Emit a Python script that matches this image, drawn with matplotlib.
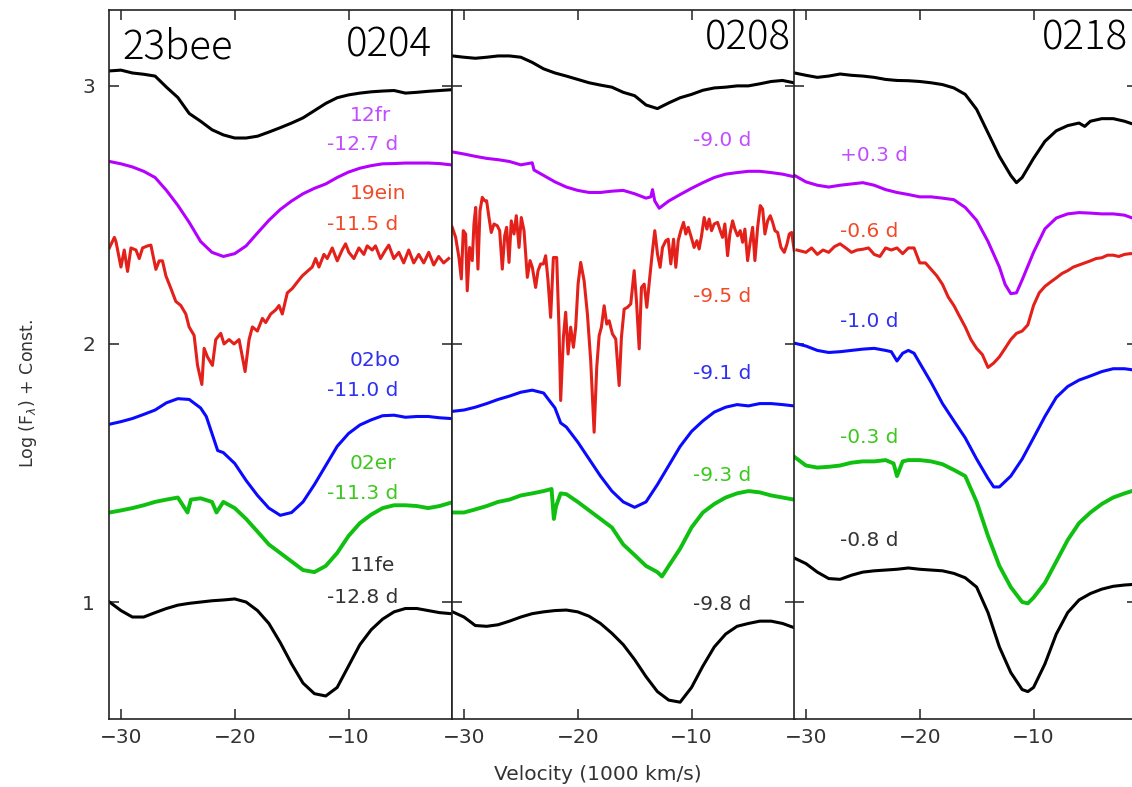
import matplotlib.pyplot as plt

# Si II line profiles, velocity in 1000 km/s, log flux + offsets

# common velocity grid for the smoother spectra
vel = [-31, -30, -29, -28, -27, -26, -25, -24, -23, -22, -21, -20, -19, -18, -17, -16,
       -15, -14, -13, -12, -11, -10, -9, -8, -7, -6, -5, -4, -3, -2, -1]

# ---------------- panel 0204 ----------------
bee_0204 = [3.058, 3.061, 3.050, 3.045, 3.038, 2.995, 2.955, 2.893, 2.863, 2.830, 2.810,
            2.798, 2.798, 2.805, 2.821, 2.838, 2.856, 2.876, 2.904, 2.932, 2.954, 2.965,
            2.972, 2.977, 2.980, 2.982, 2.972, 2.975, 2.979, 2.982, 2.985]

fr12_0204 = [2.707, 2.698, 2.686, 2.669, 2.645, 2.595, 2.537, 2.471, 2.397, 2.355, 2.339,
             2.350, 2.380, 2.430, 2.479, 2.521, 2.554, 2.582, 2.603, 2.620, 2.645, 2.666,
             2.681, 2.691, 2.698, 2.699, 2.701, 2.701, 2.701, 2.699, 2.694]

ein19_0204_v = [-31.02, -30.58, -30.44, -30.00, -29.71, -29.42, -29.12, -28.68, -28.39, -28.10,
                -27.66, -27.37, -26.93, -26.64, -26.35, -26.05, -25.61, -25.18, -24.74, -24.30,
                -24.01, -23.57, -23.27, -22.89, -22.69, -22.40, -21.96, -21.67, -21.23, -20.94,
                -20.50, -20.06, -19.62, -19.33, -19.09, -18.74, -18.45, -18.01, -17.57, -17.28,
                -16.84, -16.40, -16.11, -15.82, -15.38, -14.94, -14.50, -14.06, -13.63, -13.19,
                -12.89, -12.60, -12.16, -11.87, -11.43, -10.99, -10.56, -10.26, -9.97, -9.53,
                -9.09, -8.65, -8.36, -7.92, -7.63, -7.19, -6.75, -6.46, -6.02, -5.58,
                -5.15, -4.71, -4.27, -3.83, -3.39, -2.95, -2.51, -2.08, -1.64, -1.20]
ein19_0204 = [2.372, 2.413, 2.397, 2.298, 2.364, 2.281, 2.372, 2.364, 2.331, 2.372,
              2.380, 2.383, 2.289, 2.322, 2.322, 2.264, 2.215, 2.165, 2.149, 2.116,
              2.066, 2.033, 1.917, 1.843, 1.983, 1.950, 1.917, 2.017, 2.041, 2.000,
              2.017, 2.000, 2.017, 1.950, 1.893, 2.017, 2.066, 2.050, 2.099, 2.083,
              2.116, 2.132, 2.149, 2.116, 2.198, 2.215, 2.240, 2.264, 2.281, 2.298,
              2.331, 2.298, 2.347, 2.331, 2.372, 2.322, 2.364, 2.388, 2.355, 2.331,
              2.372, 2.347, 2.380, 2.364, 2.380, 2.331, 2.364, 2.383, 2.331, 2.355,
              2.314, 2.364, 2.314, 2.347, 2.314, 2.355, 2.306, 2.339, 2.314, 2.331]

bo02_0204_v = [-31, -30, -29, -28, -27, -26, -25, -24, -23, -22.5, -22, -21.5, -21, -20, -19,
               -18, -17, -16, -15, -14, -13, -12, -11, -10, -9, -8, -7, -6, -5, -4, -3, -2, -1]
bo02_0204 = [1.689, 1.699, 1.711, 1.727, 1.744, 1.772, 1.788, 1.785, 1.752, 1.719, 1.653,
             1.587, 1.579, 1.537, 1.471, 1.413, 1.364, 1.336, 1.347, 1.388, 1.455, 1.529,
             1.603, 1.653, 1.686, 1.706, 1.722, 1.724, 1.716, 1.719, 1.719, 1.714, 1.711]

er02_0204_v = [-31, -30, -29, -28, -27, -26, -25, -24.15, -23.85, -23, -22, -21.6, -21, -20,
               -19, -18, -17, -16, -15, -14, -13, -12, -11, -10, -9, -8, -7, -6, -5, -4, -3,
               -2, -1]
er02_0204 = [1.347, 1.355, 1.364, 1.375, 1.388, 1.397, 1.405, 1.347, 1.397, 1.402, 1.388,
             1.347, 1.388, 1.364, 1.322, 1.273, 1.223, 1.190, 1.157, 1.124, 1.116, 1.140,
             1.190, 1.256, 1.306, 1.339, 1.364, 1.375, 1.375, 1.372, 1.364, 1.372, 1.385]

fe11_0204 = [1.000, 0.967, 0.942, 0.942, 0.959, 0.975, 0.988, 0.995, 1.000, 1.005, 1.008,
             1.012, 1.000, 0.967, 0.917, 0.843, 0.760, 0.686, 0.645, 0.636, 0.669, 0.752,
             0.835, 0.893, 0.934, 0.962, 0.975, 0.975, 0.967, 0.959, 0.955]

# ---------------- panel 0208 ----------------
bee_0208 = [3.116, 3.111, 3.107, 3.111, 3.116, 3.116, 3.111, 3.091, 3.066, 3.050, 3.038,
            3.025, 3.012, 3.003, 2.995, 2.975, 2.962, 2.926, 2.912, 2.934, 2.954, 2.967,
            2.983, 2.992, 2.995, 3.000, 3.000, 3.008, 3.017, 3.021, 3.012]

fr12_0208_v = [-31, -30, -29, -28, -27, -26, -25, -24, -23.84, -23, -22, -21, -20, -19, -18,
               -17, -16, -15, -14, -13.58, -13.43, -13.23, -12.84, -12, -11, -10, -9, -8,
               -7, -6, -5, -4, -3, -2, -1]
fr12_0208 = [2.744, 2.736, 2.727, 2.719, 2.714, 2.707, 2.694, 2.702, 2.674, 2.653, 2.628,
             2.608, 2.595, 2.587, 2.587, 2.592, 2.595, 2.582, 2.565, 2.570, 2.598, 2.554,
             2.526, 2.554, 2.579, 2.603, 2.625, 2.645, 2.658, 2.664, 2.669, 2.669, 2.664,
             2.658, 2.648]

ein19_0208_v = [-31.03, -30.73, -30.44, -30.23, -30.06, -29.85, -29.71, -29.50, -29.27, -29.12,
                -28.97, -28.77, -28.59, -28.39, -28.18, -28.01, -27.80, -27.60, -27.36, -27.07,
                -26.86, -26.63, -26.42, -26.25, -26.04, -25.84, -25.60, -25.40, -25.16, -24.96,
                -24.72, -24.43, -24.19, -23.99, -23.70, -23.49, -23.26, -23.02, -22.82, -22.61,
                -22.38, -22.14, -21.85, -21.64, -21.50, -21.26, -21.06, -20.85, -20.62, -20.38,
                -20.18, -19.97, -19.74, -19.44, -19.15, -18.86, -18.56, -18.33, -18.12, -17.92,
                -17.68, -17.45, -17.24, -16.95, -16.66, -16.36, -16.16, -15.92, -15.63, -15.34,
                -15.04, -14.84, -14.60, -14.40, -14.16, -13.93, -13.70, -13.43, -13.23, -12.99,
                -12.76, -12.55, -12.26, -12.05, -11.82, -11.58, -11.38, -11.17, -10.94, -10.70,
                -10.50, -10.29, -10.06, -9.77, -9.53, -9.33, -9.12, -8.89, -8.65, -8.45,
                -8.24, -8.01, -7.71, -7.48, -7.27, -7.07, -6.83, -6.63, -6.39, -6.19,
                -5.95, -5.72, -5.51, -5.31, -5.07, -4.87, -4.63, -4.43, -4.19, -3.96,
                -3.75, -3.55, -3.31, -3.08, -2.87, -2.67, -2.43, -2.14, -1.85, -1.61,
                -1.41, -1.20, -0.97]
ein19_0208 = [2.452, 2.413, 2.335, 2.252, 2.439, 2.426, 2.206, 2.374, 2.323, 2.465,
              2.529, 2.290, 2.516, 2.568, 2.555, 2.555, 2.490, 2.432, 2.465, 2.458,
              2.439, 2.290, 2.419, 2.452, 2.316, 2.477, 2.426, 2.497, 2.374, 2.490,
              2.439, 2.258, 2.323, 2.297, 2.219, 2.284, 2.310, 2.310, 2.342, 2.245,
              2.103, 2.335, 2.335, 2.052, 1.781, 2.026, 2.123, 1.961, 2.065, 1.987,
              2.065, 2.232, 2.316, 2.245, 2.116, 1.935, 1.658, 1.910, 2.032, 2.065,
              2.148, 2.077, 2.090, 2.039, 2.019, 1.839, 2.026, 2.135, 2.142, 2.155,
              2.284, 2.168, 1.981, 2.219, 2.232, 2.142, 2.245, 2.361, 2.439, 2.348,
              2.297, 2.374, 2.400, 2.406, 2.310, 2.406, 2.297, 2.400, 2.439, 2.471,
              2.426, 2.452, 2.419, 2.374, 2.400, 2.368, 2.419, 2.490, 2.445, 2.484,
              2.439, 2.465, 2.471, 2.439, 2.413, 2.465, 2.342, 2.426, 2.477, 2.445,
              2.419, 2.439, 2.394, 2.445, 2.323, 2.387, 2.452, 2.323, 2.452, 2.536,
              2.523, 2.426, 2.477, 2.497, 2.471, 2.439, 2.432, 2.374, 2.355, 2.387,
              2.426, 2.432, 2.361]

bo02_0208_v = [-31, -30, -29, -28, -27, -26, -25, -24, -23, -22, -21.5, -21, -20, -19, -18,
               -17, -16, -15, -14, -13, -12, -11, -10, -9, -8, -7, -6, -5, -4, -3, -2, -1]
bo02_0208 = [1.739, 1.744, 1.755, 1.769, 1.785, 1.798, 1.813, 1.821, 1.810, 1.752, 1.694,
             1.678, 1.620, 1.554, 1.488, 1.430, 1.388, 1.367, 1.388, 1.455, 1.529, 1.603,
             1.661, 1.702, 1.736, 1.755, 1.765, 1.760, 1.769, 1.769, 1.765, 1.760]

er02_0208_v = [-31, -30, -29, -28, -27, -26, -25, -24, -23, -22.3, -22.1, -21.9, -21.5, -21,
               -20, -19, -18, -17, -16, -15, -14, -13, -12.6, -12, -11, -10, -9, -8, -7, -6,
               -5, -4, -3, -2, -1]
er02_0208 = [1.347, 1.347, 1.359, 1.372, 1.388, 1.397, 1.413, 1.421, 1.430, 1.438, 1.322,
             1.372, 1.421, 1.418, 1.388, 1.355, 1.322, 1.289, 1.223, 1.182, 1.140, 1.116,
             1.099, 1.140, 1.207, 1.289, 1.347, 1.380, 1.405, 1.421, 1.430, 1.425, 1.413,
             1.405, 1.397]

fe11_0208 = [0.962, 0.942, 0.909, 0.906, 0.912, 0.926, 0.942, 0.955, 0.962, 0.967, 0.969,
             0.962, 0.945, 0.917, 0.879, 0.835, 0.777, 0.711, 0.653, 0.620, 0.612, 0.669,
             0.752, 0.826, 0.876, 0.906, 0.917, 0.926, 0.926, 0.917, 0.901]

# ---------------- panel 0218 ----------------
bee_0218_v = [-31, -30, -29, -28, -27, -26, -25, -24, -23, -22, -21, -20, -19, -18, -17, -16,
              -15, -14, -13, -12, -11.5, -11, -10, -9, -8, -7, -6, -5.5, -5, -4, -3, -2, -1]
bee_0218 = [3.050, 3.041, 3.033, 3.038, 3.046, 3.041, 3.038, 3.033, 3.025, 3.021, 3.020,
            3.017, 3.012, 3.005, 2.992, 2.967, 2.909, 2.818, 2.727, 2.653, 2.625, 2.645,
            2.719, 2.785, 2.826, 2.846, 2.856, 2.843, 2.863, 2.873, 2.873, 2.863, 2.848]

fr12_0218_v = [-31, -30, -29, -28, -27, -26, -25, -24, -23, -22, -21, -20, -19, -18, -17, -16,
               -15, -14, -13, -12.5, -12, -11.5, -11, -10, -9, -8, -7, -6, -5, -4, -3, -2, -1]
fr12_0218 = [2.653, 2.628, 2.615, 2.608, 2.615, 2.620, 2.625, 2.615, 2.598, 2.587, 2.579,
             2.570, 2.570, 2.565, 2.559, 2.529, 2.479, 2.397, 2.298, 2.231, 2.195, 2.198,
             2.248, 2.355, 2.446, 2.488, 2.504, 2.509, 2.507, 2.504, 2.504, 2.499, 2.483]

ein19_0218_v = [-30.8, -30, -29.5, -29, -28.5, -28, -27.5, -27, -26.5, -26, -25.5, -25, -24.5,
                -24, -23.5, -23, -22.5, -22, -21.5, -21, -20.5, -20, -19.5, -19, -18.5, -18,
                -17.5, -17, -16.5, -16, -15.5, -15, -14.5, -14, -13.5, -13, -12.5, -12,
                -11.5, -11, -10.5, -10, -9.5, -9, -8.5, -8, -7.5, -7, -6.5, -6, -5.5, -5,
                -4.5, -4, -3.5, -3, -2.5, -2, -1.5, -1]
ein19_0218 = [2.364, 2.355, 2.372, 2.347, 2.364, 2.355, 2.377, 2.388, 2.372, 2.355, 2.364,
              2.367, 2.372, 2.347, 2.339, 2.372, 2.364, 2.372, 2.350, 2.372, 2.372, 2.314,
              2.314, 2.289, 2.264, 2.231, 2.182, 2.149, 2.107, 2.066, 2.017, 1.983, 1.959,
              1.909, 1.926, 1.950, 1.983, 2.017, 2.041, 2.050, 2.074, 2.149, 2.198, 2.223,
              2.240, 2.256, 2.273, 2.284, 2.298, 2.306, 2.314, 2.322, 2.331, 2.334, 2.344,
              2.344, 2.339, 2.347, 2.350, 2.350]

bo02_0218_v = [-31, -30, -29, -28, -27, -26, -25, -24, -23, -22.5, -22, -21.5, -21, -20.5,
               -20, -19, -18, -17, -16, -15, -14, -13.5, -13, -12, -11, -10, -9, -8, -7, -6,
               -5, -4, -3, -2, -1]
bo02_0218 = [2.003, 1.992, 1.975, 1.967, 1.970, 1.975, 1.980, 1.983, 1.975, 1.970, 1.934,
             1.964, 1.975, 1.964, 1.926, 1.851, 1.769, 1.702, 1.636, 1.554, 1.479, 1.446,
             1.446, 1.488, 1.554, 1.636, 1.719, 1.793, 1.835, 1.860, 1.876, 1.893, 1.904,
             1.904, 1.898]

er02_0218_v = [-31, -30, -29, -28, -27, -26, -25, -24, -23, -22.3, -22, -21.5, -21, -20, -19,
               -18, -17, -16, -15, -14, -13, -12, -11, -10.5, -10, -9, -8, -7, -6, -5, -4,
               -3, -2, -1]
er02_0218 = [1.562, 1.529, 1.521, 1.524, 1.529, 1.540, 1.545, 1.545, 1.550, 1.537, 1.488,
             1.545, 1.550, 1.550, 1.545, 1.534, 1.512, 1.488, 1.388, 1.256, 1.140, 1.058,
             1.000, 0.995, 1.017, 1.074, 1.157, 1.240, 1.306, 1.347, 1.380, 1.405, 1.421,
             1.435]

fe11_0218_v = [-31, -30, -29, -28, -27, -26, -25, -24, -23, -22, -21, -20, -19, -18, -17, -16,
               -15, -14, -13, -12, -11, -10.5, -10, -9, -8, -7, -6, -5, -4, -3, -2, -1]
fe11_0218 = [1.170, 1.149, 1.116, 1.091, 1.088, 1.104, 1.116, 1.121, 1.124, 1.127, 1.132,
             1.127, 1.124, 1.121, 1.111, 1.094, 1.058, 0.959, 0.826, 0.727, 0.661, 0.653,
             0.669, 0.760, 0.876, 0.959, 1.008, 1.033, 1.050, 1.061, 1.066, 1.069]

# colours
c_black = '#000000'
c_purple = '#b400ff'
c_red = '#e3201a'
c_blue = '#0a0aff'
c_green = '#10c010'
t_purple = '#c24dff'
t_red = '#f04a28'
t_blue = '#3030f0'
t_green = '#3cc81e'
t_black = '#333333'

panels = [
    ('0204', [(vel, bee_0204, c_black), (vel, fr12_0204, c_purple),
              (ein19_0204_v, ein19_0204, c_red), (bo02_0204_v, bo02_0204, c_blue),
              (er02_0204_v, er02_0204, c_green), (vel, fe11_0204, c_black)]),
    ('0208', [(vel, bee_0208, c_black), (fr12_0208_v, fr12_0208, c_purple),
              (ein19_0208_v, ein19_0208, c_red), (bo02_0208_v, bo02_0208, c_blue),
              (er02_0208_v, er02_0208, c_green), (vel, fe11_0208, c_black)]),
    ('0218', [(bee_0218_v, bee_0218, c_black), (fr12_0218_v, fr12_0218, c_purple),
              (ein19_0218_v, ein19_0218, c_red), (bo02_0218_v, bo02_0218, c_blue),
              (er02_0218_v, er02_0218, c_green), (fe11_0218_v, fe11_0218, c_black)]),
]

# text labels per panel: (text, x frac, baseline y frac, colour)
labels = [
    [('12fr', 0.703, 0.844, t_purple), ('-12.7 d', 0.636, 0.802, t_purple),
     ('19ein', 0.703, 0.733, t_red), ('-11.5 d', 0.636, 0.690, t_red),
     ('02bo', 0.703, 0.498, t_blue), ('-11.0 d', 0.636, 0.455, t_blue),
     ('02er', 0.703, 0.352, t_green), ('-11.3 d', 0.636, 0.310, t_green),
     ('11fe', 0.703, 0.208, t_black), ('-12.8 d', 0.636, 0.163, t_black)],
    [('-9.0 d', 0.704, 0.808, t_purple), ('-9.5 d', 0.704, 0.588, t_red),
     ('-9.1 d', 0.704, 0.479, t_blue), ('-9.3 d', 0.704, 0.335, t_green),
     ('-9.8 d', 0.704, 0.153, t_black)],
    [('+0.3 d', 0.134, 0.787, t_purple), ('-0.6 d', 0.134, 0.680, t_red),
     ('-1.0 d', 0.134, 0.553, t_blue), ('-0.3 d', 0.134, 0.389, t_green),
     ('-0.8 d', 0.134, 0.244, t_black)],
]

title_font = dict(family=['Noto Sans CJK JP', 'DejaVu Sans'], weight='light', fontsize=29)

fig = plt.figure(figsize=(11.32, 7.87), dpi=100)
lefts = [109 / 1132, 452 / 1132, 794 / 1132]
width = 342.5 / 1132
bottom = 68.3 / 787
height = 708.7 / 787

for i, (date, curves) in enumerate(panels):
    ax = fig.add_axes([lefts[i], bottom, width, height])
    for v, y, c in curves:
        lw = 2.8 if c == c_green else 2.2
        ax.plot(v, y, color=c, lw=lw, solid_joinstyle='round')
    ax.set_xlim(-31.05, -0.95)
    ax.set_ylim(0.548, 3.294)
    ax.set_xticks([-30, -20, -10])
    ax.set_yticks([1, 2, 3])
    ax.tick_params(direction='in', top=True, right=True, length=7, width=1.1,
                   color='#222222', labelcolor='#333333', labelsize=14.5)
    ax.tick_params(axis='y', pad=10)
    ax.tick_params(axis='x', pad=7)
    if i > 0:
        ax.tick_params(labelleft=False)
    for s in ax.spines.values():
        s.set_color('#222222')
        s.set_linewidth(1.2)
    for txt, fx, fy, col in labels[i]:
        ax.text(fx, fy, txt, transform=ax.transAxes, color=col, fontsize=14.5,
                ha='left', va='baseline')
    if i == 0:
        ax.text(0.038, 0.932, '23bee', transform=ax.transAxes, ha='left',
                va='baseline', **title_font)
        ax.text(0.942, 0.934, date, transform=ax.transAxes, ha='right',
                va='baseline', **title_font)
    else:
        ax.text(0.988 if i == 1 else 0.974, 0.944, date, transform=ax.transAxes,
                ha='right', va='baseline', **title_font)

fig.text(598 / 1132, 12 / 787, 'Velocity (1000 km/s)', ha='center', va='center',
         fontsize=14.5, color='#333333')
fig.text(28 / 1132, 394 / 787, 'Log (F$_{\\lambda}$) + Const.', ha='center', va='center',
         rotation=90, fontsize=12.5, color='#333333')

plt.savefig('out.png', dpi=100)
